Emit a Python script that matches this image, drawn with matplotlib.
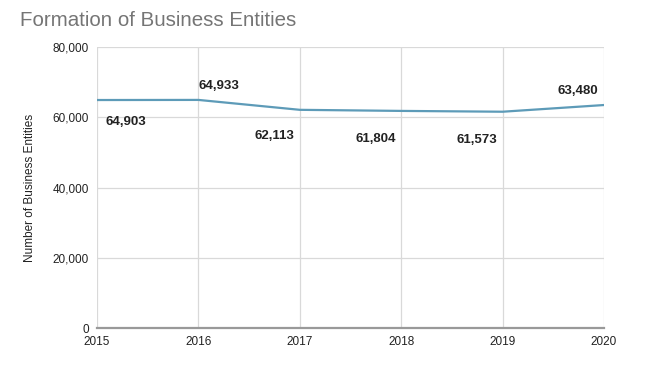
import matplotlib
matplotlib.use("Agg")
import matplotlib.pyplot as plt
from matplotlib.ticker import FuncFormatter

plt.rcParams["font.family"] = ["Liberation Sans", "DejaVu Sans"]

years = [2015, 2016, 2017, 2018, 2019, 2020]
entities = [64903, 64933, 62113, 61804, 61573, 63480]
# label offsets in points (dx, dy) and alignment per point
label_pos = [(6, -16, "left"), (0, 10, "left"), (-4, -19, "right"),
             (-4, -20, "right"), (-4, -20, "right"), (-4, 10, "right")]

fig = plt.figure(figsize=(6.49, 3.66), dpi=100)
ax = fig.add_axes([0.1495, 0.1038, 0.7812, 0.7678])

ax.plot(years, entities, color="#5d9bb8", linewidth=1.6, zorder=3)

for x, y, (dx, dy, ha) in zip(years, entities, label_pos):
    ax.annotate(f"{y:,}", (x, y), xytext=(dx, dy), textcoords="offset points",
                ha=ha, va="center", fontsize=9.5, fontweight="bold", color="#222222")

ax.set_xlim(2015, 2020)
ax.set_ylim(0, 80000)
ax.set_xticks(years)
ax.set_yticks([0, 20000, 40000, 60000, 80000])
ax.yaxis.set_major_formatter(FuncFormatter(lambda v, p: f"{int(v):,}"))
ax.grid(True, color="#d9d9d9", linewidth=0.9)
ax.set_axisbelow(True)
for s in ["top", "right", "left"]:
    ax.spines[s].set_visible(False)
ax.spines["bottom"].set_color("#999999")
ax.spines["bottom"].set_linewidth(1.6)
ax.tick_params(axis="both", length=0, labelsize=8.5, colors="#222222")
ax.tick_params(axis="y", pad=6)
ax.tick_params(axis="x", pad=6)

ax.set_ylabel("Number of Business Entities", fontsize=8.5, color="#222222", labelpad=12)

fig.text(0.031, 0.93, "Formation of Business Entities", fontsize=14.8, color="#757575")

fig.savefig("out.png", dpi=100)
